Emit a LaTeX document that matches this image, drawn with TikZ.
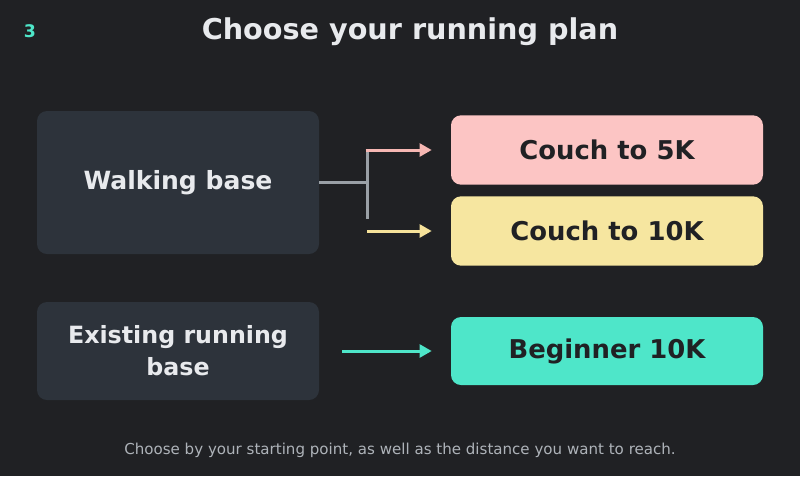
\documentclass[tikz,border=0pt]{standalone}
\usepackage{fontspec}
\setmainfont{DejaVu Sans}
\usetikzlibrary{arrows.meta}
\definecolor{bg}{HTML}{202124}
\definecolor{leftbox}{HTML}{2D333B}
\definecolor{txtlight}{HTML}{E8EAED}
\definecolor{txtdark}{HTML}{202124}
\definecolor{graylink}{HTML}{9AA0A6}
\definecolor{pinkfill}{HTML}{FCC5C4}
\definecolor{pinkline}{HTML}{F6B7B3}
\definecolor{yellowfill}{HTML}{F6E6A0}
\definecolor{yellowline}{HTML}{F6E29A}
\definecolor{tealfill}{HTML}{4EE6C9}
\definecolor{footgray}{HTML}{AEB3B9}
\tikzset{
  px/.style={x=0.75pt,y=-0.75pt},
  srcbox/.style={rectangle, rounded corners=7.5pt, fill=leftbox, draw=none,
    text=txtlight, align=center, inner sep=0pt},
  planbox/.style={rectangle, rounded corners=7.5pt, draw=none,
    text=txtdark, font=\bfseries\fontsize{19.4}{24}\selectfont, align=center, inner sep=0pt,
    minimum width=234pt, minimum height=52pt},
  link/.style={line width=2.25pt},
  arr/.style={line width=2.25pt, -{Triangle[length=9pt,width=9.5pt]}},
}
\begin{document}
\begin{tikzpicture}[px]
\fill[bg] (0,0) rectangle (800,476);
\useasboundingbox (0,0) rectangle (800,476);

\node[text=tealfill, font=\bfseries\fontsize{13}{15}\selectfont] (num) at (30,31) {3};
\node[text=txtlight, font=\bfseries\fontsize{21.5}{25}\selectfont] (title) at (410,31.5) {Choose your running plan};

\node[srcbox, minimum width=211.5pt, minimum height=107.25pt, font=\bfseries\fontsize{18.8}{24}\selectfont] (walk) at (178,182.5) {Walking base};
\node[srcbox, minimum width=211.5pt, minimum height=73.5pt, font=\bfseries\fontsize{17.8}{24}\selectfont] (exist) at (178,351) {Existing running\\ base};

\node[planbox, fill=pinkfill] (c5) at (607,150) {Couch to 5K};
\node[planbox, fill=yellowfill] (c10) at (607,231) {Couch to 10K};
\node[planbox, fill=tealfill, minimum height=51pt] (b10) at (607,351) {Beginner 10K};

\coordinate (junc) at (367,182.5);
\coordinate (jtop) at (367,150);
\coordinate (jbot) at (367,219);
\coordinate (ystart) at (367,231);
\coordinate (tstart) at (342,351);

\draw[link, graylink] (walk.east) -- (junc);
\draw[link, graylink] (jtop) -- (jbot);
\draw[arr, pinkline, shorten >=14.25pt] ([xshift=-1.1pt]jtop) -- (c5.west);
\draw[arr, yellowline, shorten >=14.25pt] (ystart) -- (c10.west);
\draw[arr, tealfill, shorten >=14.25pt] (tstart) -- (b10.west);

\node[text=footgray, font=\fontsize{11.3}{13}\selectfont] (foot) at (400,450) {Choose by your starting point, as well as the distance you want to reach.};
\end{tikzpicture}
\end{document}
